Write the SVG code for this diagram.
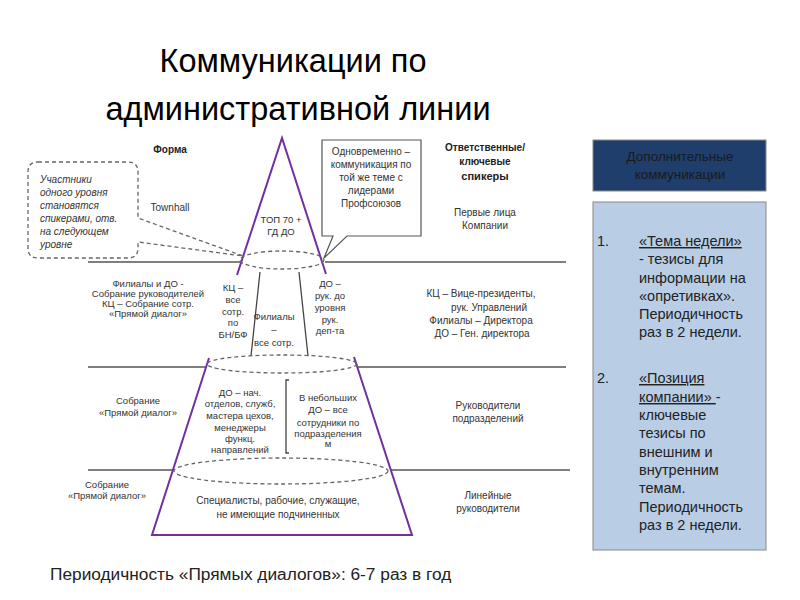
<svg xmlns="http://www.w3.org/2000/svg" width="800" height="600" viewBox="0 0 800 600">
<style>
text{font-family:"Liberation Sans",Arial,sans-serif;fill:#333;}
.t{font-size:32.5px;fill:#000;text-anchor:middle;}
.s{font-size:9.5px;text-anchor:middle;}
.m{font-size:10px;text-anchor:middle;}
.b{font-size:10px;font-weight:bold;text-anchor:middle;fill:#222;}
.i{font-size:10px;font-style:italic;}
.l{font-size:14.5px;fill:#222;}
.pur{stroke:#7030A0;stroke-width:2;fill:none;}
.dash{stroke:#666;stroke-width:1.3;stroke-dasharray:4,3;fill:none;}
.hl{stroke:#555;stroke-width:1.3;fill:none;}
.sl{stroke:#444;stroke-width:1.3;fill:none;}
</style>
<rect width="800" height="600" fill="#fff"/>
<g id="title">
<text class="t" x="293" y="72">Коммуникации по</text>
<text class="t" x="298" y="120">административной линии</text>
</g>
<g id="connectors">
<line class="hl" x1="88" y1="262" x2="240" y2="262"/>
<line class="hl" x1="325" y1="262" x2="566" y2="262"/>
<line class="hl" x1="88" y1="367" x2="207" y2="367"/>
<line class="hl" x1="357" y1="367" x2="566" y2="367"/>
<line class="hl" x1="88" y1="470" x2="174" y2="470"/>
<line class="hl" x1="390" y1="470" x2="570" y2="470"/>
<line class="sl" x1="260" y1="272" x2="251" y2="356"/>
<line class="sl" x1="299" y1="272" x2="308" y2="356"/>
<path class="sl" d="M289,380 H286 V453 H289"/>
</g>
<g id="pyramid">
<path class="pur" d="M237,275 L282,138 L326,274"/>
<path class="pur" d="M209,358 L152,535 L412,535 L354,357"/>
<ellipse class="dash" cx="282" cy="260" rx="42" ry="9"/>
<ellipse class="dash" cx="282" cy="364" rx="75" ry="9"/>
<ellipse class="dash" cx="281" cy="471" rx="107" ry="13"/>
</g>
<g id="callout-left">
<path class="dash" d="M38,162 H128 Q138,162 138,172 V218 L243,256 L138,242 V248 Q138,258 128,258 H38 Q28,258 28,248 V172 Q28,162 38,162 Z"/>
<text class="i" x="40" y="183">Участники</text>
<text class="i" x="40" y="196">одного уровня</text>
<text class="i" x="40" y="209">становятся</text>
<text class="i" x="40" y="222">спикерами, отв.</text>
<text class="i" x="40" y="235">на следующем</text>
<text class="i" x="40" y="248">уровне</text>
</g>
<g id="callout-right">
<path d="M322,140 H421 V236 H347 L324,258 L333,236 H322 Z" fill="#fff" stroke="#555" stroke-width="1.2"/>
<text class="m" x="371" y="155">Одновременно –</text>
<text class="m" x="371" y="168">коммуникация по</text>
<text class="m" x="371" y="181">той же теме с</text>
<text class="m" x="371" y="194">лидерами</text>
<text class="m" x="371" y="207">Профсоюзов</text>
</g>
<g id="headers">
<text class="b" x="170" y="153">Форма</text>
<text class="b" x="485" y="151">Ответственные/</text>
<text class="b" x="485" y="165">ключевые</text>
<text class="b" x="485" y="180" style="font-size:11px">спикеры</text>
</g>
<g id="level1">
<text class="m" x="170" y="211">Townhall</text>
<text class="s" x="281" y="223">ТОП 70 +</text>
<text class="s" x="281" y="235">ГД ДО</text>
<text class="m" x="485" y="216">Первые лица</text>
<text class="m" x="485" y="229">Компании</text>
</g>
<g id="level2">
<text class="s" x="148" y="287">Филиалы и ДО -</text>
<text class="s" x="148" y="297">Собрание руководителей</text>
<text class="s" x="148" y="307">КЦ – Собрание сотр.</text>
<text class="s" x="148" y="317">«Прямой диалог»</text>
<text class="s" x="233" y="291">КЦ –</text>
<text class="s" x="233" y="303">все</text>
<text class="s" x="233" y="315">сотр.</text>
<text class="s" x="233" y="326">по</text>
<text class="s" x="233" y="338">БН/БФ</text>
<text class="s" x="274" y="320">Филиалы</text>
<text class="s" x="274" y="333">–</text>
<text class="s" x="274" y="346">все сотр.</text>
<text class="s" x="330" y="287">ДО –</text>
<text class="s" x="330" y="299">рук. до</text>
<text class="s" x="330" y="311">уровня</text>
<text class="s" x="330" y="323">рук.</text>
<text class="s" x="330" y="334">деп-та</text>
<text class="m" x="481" y="297">КЦ – Вице-президенты,</text>
<text class="m" x="489" y="311">рук. Управлений</text>
<text class="m" x="481" y="324">Филиалы – Директора</text>
<text class="m" x="482" y="337">ДО – Ген. директора</text>
</g>
<g id="level3">
<text class="s" x="138" y="404">Собрание</text>
<text class="s" x="138" y="416">«Прямой диалог»</text>
<text class="s" x="240" y="396">ДО – нач.</text>
<text class="s" x="240" y="407">отделов, служб,</text>
<text class="s" x="240" y="419">мастера цехов,</text>
<text class="s" x="240" y="431">менеджеры</text>
<text class="s" x="240" y="442">функц.</text>
<text class="s" x="240" y="453">направлений</text>
<text class="s" x="328" y="401">В небольших</text>
<text class="s" x="328" y="413">ДО – все</text>
<text class="s" x="328" y="426">сотрудники по</text>
<text class="s" x="328" y="437">подразделения</text>
<text class="s" x="328" y="447">м</text>
<text class="m" x="488" y="409">Руководители</text>
<text class="m" x="488" y="422">подразделений</text>
</g>
<g id="level4">
<text class="s" x="107" y="488">Собрание</text>
<text class="s" x="107" y="499">«Прямой диалог»</text>
<text class="m" x="278" y="504">Специалисты, рабочие, служащие,</text>
<text class="m" x="278" y="518">не имеющие подчиненных</text>
<text class="m" x="488" y="499">Линейные</text>
<text class="m" x="488" y="512">руководители</text>
</g>
<g id="extra-header">
<rect x="593" y="140" width="173" height="51" fill="#1F3E6B" stroke="#888" stroke-width="1"/>
<text x="680" y="161" style="font-size:13.5px;text-anchor:middle;fill:#1a1a1a">Дополнительные</text>
<text x="680" y="179" style="font-size:13.5px;text-anchor:middle;fill:#1a1a1a">коммуникации</text>
</g>
<g id="extra-list">
<rect x="593" y="202" width="173" height="348" fill="#B9CDE5" stroke="#888" stroke-width="1"/>
<text class="l" x="597" y="246">1.</text>
<text class="l" x="639" y="246" text-decoration="underline">«Тема недели»</text>
<text class="l" x="639" y="264">- тезисы для</text>
<text class="l" x="639" y="283">информации на</text>
<text class="l" x="639" y="301">«опретивках».</text>
<text class="l" x="639" y="319">Периодичность</text>
<text class="l" x="639" y="337">раз в 2 недели.</text>
<text class="l" x="597" y="383">2.</text>
<text class="l" x="639" y="383" text-decoration="underline">«Позиция</text>
<text class="l" x="639" y="402"><tspan text-decoration="underline">компании» </tspan>-</text>
<text class="l" x="639" y="420">ключевые</text>
<text class="l" x="639" y="438">тезисы по</text>
<text class="l" x="639" y="457">внешним и</text>
<text class="l" x="639" y="475">внутренним</text>
<text class="l" x="639" y="493">темам.</text>
<text class="l" x="639" y="512">Периодичность</text>
<text class="l" x="639" y="530">раз в 2 недели.</text>
</g>
<g id="footer">
<text x="50" y="580" style="font-size:17.3px;fill:#222">Периодичность «Прямых диалогов»: 6-7 раз в год</text>
</g>
</svg>
